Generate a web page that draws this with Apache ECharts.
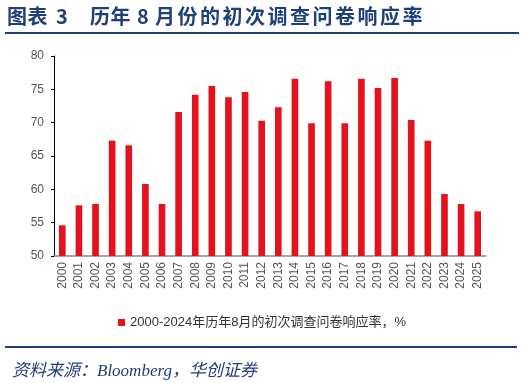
<!DOCTYPE html>
<html><head><meta charset="utf-8">
<script src="https://cdn.jsdelivr.net/npm/echarts@6/dist/echarts.min.js"></script>
<style>html,body{margin:0;padding:0;background:#fff}#c{width:524px;height:383px}</style>
</head><body><div id="c"></div>
<script>
const categories = ['2000','2001','2002','2003','2004','2005','2006','2007','2008','2009','2010','2011','2012','2013','2014','2015','2016','2017','2018','2019','2020','2021','2022','2023','2024','2025'];
const values = [54.6,57.6,57.8,67.3,66.6,60.8,57.8,71.6,74.2,75.5,73.8,74.6,70.3,72.3,76.6,69.9,76.2,69.9,76.6,75.2,76.7,70.4,67.3,59.3,57.8,56.7];
const seriesName = '2000-2024年历年8月的初次调查问卷响应率，%';
const titleParts = ['图表', '3', '历年', '8', '月份的初次调查问卷响应率'];
const sourceText = '资料来源：Bloomberg，华创证券';
const blue = '#1F3F7A';

// title layout: [startX, pitch] per part
const titleLayout = [[7, 20.5], [56, 10], [90, 20.5], [137, 10], [155, 22.5]];
const titleGraphics = [];
titleParts.forEach((p, i) => {
  const [x0, pitch] = titleLayout[i];
  Array.from(p).forEach((ch, j) => {
    titleGraphics.push({type:'text', x: x0 + j * pitch, y: 16, silent:true,
      style:{text: ch, fill: blue, font: 'bold 20px "Noto Sans CJK SC"', textVerticalAlign:'middle', textAlign:'left'}});
  });
});

const chart = echarts.init(document.getElementById('c'), null, {renderer:'canvas'});
chart.setOption({
  animation:false,
  title:[
    {text:sourceText,left:7,top:358,textStyle:{color:blue,fontSize:17,fontWeight:'normal',fontStyle:'italic',fontFamily:'Liberation Serif, Noto Sans CJK SC'}}
  ],
  graphic:[
    {type:'rect',shape:{x:5,y:32,width:514,height:2},style:{fill:blue},silent:true},
    {type:'rect',shape:{x:5,y:346,width:512,height:2},style:{fill:blue},silent:true}
  ].concat(titleGraphics),
  legend:{data:[seriesName],top:311,left:'center',itemWidth:7,itemHeight:7,itemGap:3,icon:'rect',
    textStyle:{fontSize:13,color:'#333',fontFamily:'Liberation Sans, Noto Sans CJK SC'}},
  grid:{left:54,right:38,top:56,bottom:127},
  xAxis:{type:'category',data:categories,
    axisLine:{lineStyle:{color:'#888',width:1.5}},
    axisTick:{alignWithLabel:false,length:5,lineStyle:{color:'#000'}},
    axisLabel:{rotate:90,interval:0,fontSize:12,color:'#555',margin:6,fontFamily:'Liberation Sans'}},
  yAxis:{type:'value',min:50,max:80,interval:5,
    axisLine:{show:true,lineStyle:{color:'#000'}},
    axisTick:{show:true,length:3,lineStyle:{color:'#000'}},
    splitLine:{show:false},
    axisLabel:{fontSize:12,color:'#555',margin:10,fontFamily:'Liberation Sans'}},
  series:[{name:seriesName,type:'bar',data:values,barWidth:'40%',itemStyle:{color:'#E3121D'}}]
});
</script></body></html>
